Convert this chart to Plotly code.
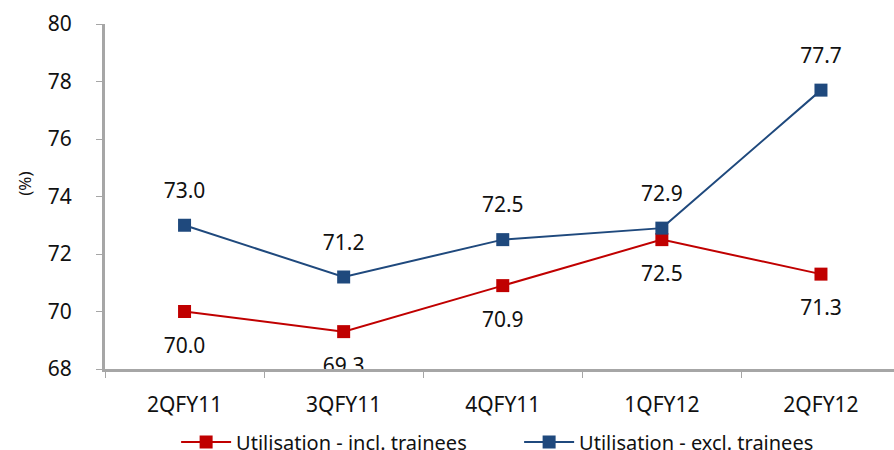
import plotly.graph_objects as go

categories = ["2QFY11", "3QFY11", "4QFY11", "1QFY12", "2QFY12"]
incl_trainees = [70.0, 69.3, 70.9, 72.5, 71.3]
excl_trainees = [73.0, 71.2, 72.5, 72.9, 77.7]
series_names = ["Utilisation - incl. trainees", "Utilisation - excl. trainees"]
y_ticks = [68, 70, 72, 74, 76, 78, 80]

RED = "#C00000"
BLUE = "#1F497D"
FONT = "Noto Sans"
FS = 21

fig = go.Figure()
fig.add_trace(go.Scatter(
    x=categories, y=incl_trainees, name=series_names[0], mode="lines+markers",
    line=dict(color=RED, width=2), marker=dict(symbol="square", size=13, color=RED),
))
fig.add_trace(go.Scatter(
    x=categories, y=excl_trainees, name=series_names[1], mode="lines+markers",
    line=dict(color=BLUE, width=2), marker=dict(symbol="square", size=13, color=BLUE),
))

# data labels as clipped text traces (transparent markers set the offset)
fig.add_trace(go.Scatter(
    x=categories, y=incl_trainees, mode="markers+text", showlegend=False, hoverinfo="skip",
    text=[f"{v:.1f}" for v in incl_trainees], textposition="bottom center",
    marker=dict(size=39, opacity=0), cliponaxis=True,
    textfont=dict(family=FONT, size=FS, color="#111"),
))
fig.add_trace(go.Scatter(
    x=categories, y=excl_trainees, mode="markers+text", showlegend=False, hoverinfo="skip",
    text=[f"{v:.1f}" for v in excl_trainees], textposition="top center",
    marker=dict(size=34, opacity=0), cliponaxis=True,
    textfont=dict(family=FONT, size=FS, color="#111"),
))

fig.add_annotation(x=-0.103, y=0.536, xref="paper", yref="paper", text="(%)", textangle=-90,
                   xanchor="center", yanchor="middle",
                   showarrow=False, font=dict(family=FONT, size=17, color="#111"))

fig.update_layout(
    width=894, height=450,
    margin=dict(l=105, r=0, t=24, b=81, autoexpand=False),
    paper_bgcolor="white", plot_bgcolor="white",
    font=dict(family=FONT, size=FS, color="#111"),
    showlegend=True,
    legend=dict(orientation="h", xref="container", x=0.197, xanchor="left", yref="container",
                y=0.018, yanchor="middle", font=dict(family=FONT, size=20), itemwidth=50,
                entrywidth=278, entrywidthmode="pixels"),
    xaxis=dict(
        type="category", range=[-0.5, 4.459], showline=True, linecolor="#A6A6A6", linewidth=3,
        showgrid=False, ticks="outside", tickson="boundaries", ticklen=6, tickcolor="#A6A6A6",
        tickwidth=1, ticklabelstandoff=15, zeroline=False,
    ),
    yaxis=dict(
        range=[68, 80], tickvals=y_ticks, showline=True, linecolor="#A6A6A6", linewidth=3,
        showgrid=False, ticks="outside", ticklen=6, tickcolor="#A6A6A6", tickwidth=1,
        ticklabelstandoff=20, zeroline=False,
    ),
)

fig.write_html("out.html")
